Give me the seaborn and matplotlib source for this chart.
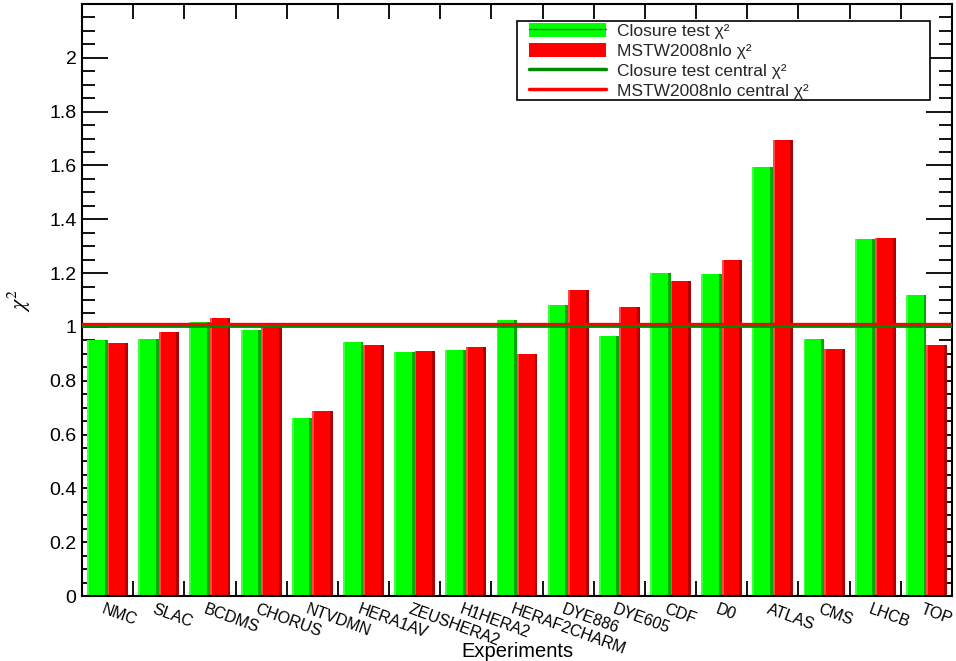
import numpy as np
import pandas as pd
import matplotlib
matplotlib.use("Agg")
import matplotlib.pyplot as plt
import matplotlib.transforms as mtransforms
from matplotlib.patches import Patch, Rectangle
from matplotlib.lines import Line2D
from matplotlib.ticker import FixedLocator, FuncFormatter
from matplotlib.legend_handler import HandlerPatch, HandlerLine2D, HandlerTuple
import seaborn as sns

experiments = ["NMC", "SLAC", "BCDMS", "CHORUS", "NTVDMN", "HERA1AV", "ZEUSHERA2",
               "H1HERA2", "HERAF2CHARM", "DYE886", "DYE605", "CDF", "D0", "ATLAS",
               "CMS", "LHCB", "TOP"]
closure_chi2 = [0.952, 0.955, 1.019, 0.989, 0.662, 0.944, 0.907, 0.914, 1.026,
                1.082, 0.967, 1.201, 1.197, 1.595, 0.955, 1.327, 1.119]
mstw_chi2 = [0.940, 0.981, 1.033, 0.998, 0.688, 0.933, 0.911, 0.926, 0.900,
             1.138, 1.074, 1.171, 1.249, 1.695, 0.918, 1.331, 0.933]
closure_central = 1.004
mstw_central = 1.011
series = ["Closure test χ²", "MSTW2008nlo χ²"]
central_labels = ["Closure test central χ²", "MSTW2008nlo central χ²"]
y_major = [0, 0.2, 0.4, 0.6, 0.8, 1.0, 1.2, 1.4, 1.6, 1.8, 2.0]

df = pd.DataFrame({
    "Experiment": experiments * 2,
    "chi2": closure_chi2 + mstw_chi2,
    "Series": [series[0]] * len(experiments) + [series[1]] * len(experiments),
})

sns.set_theme(style="ticks")
plt.rcParams["font.family"] = ["Liberation Sans", "DejaVu Sans"]
plt.rcParams["mathtext.fontset"] = "stix"

GREEN = "#00ff00"
RED = "#ff0000"
DARK_LINE_GREEN = "#008a00"

fig = plt.figure(figsize=(9.56, 6.61), dpi=100)
ax = fig.add_axes([0.0858, 0.0983, 0.9100, 0.8957])

sns.barplot(data=df, x="Experiment", y="chi2", hue="Series", hue_order=series,
            order=experiments, palette=[GREEN, RED], width=0.8, saturation=1,
            linewidth=0, legend=False, ax=ax)

# 3D-like shading strips on bars (derived from the drawn patches)
bars = [p for p in ax.patches if isinstance(p, Rectangle)]
for p in bars:
    x, w, h = p.get_x(), p.get_width(), p.get_height()
    fc = p.get_facecolor()
    is_green = fc[1] > fc[0]
    dark = "#00a800" if is_green else "#b00000"
    light = "#40ff40" if is_green else "#ff4848"
    ax.add_patch(Rectangle((x + w * 0.86, 0), w * 0.14, h, color=dark, lw=0, zorder=p.get_zorder()))
    ax.add_patch(Rectangle((x, 0), w * 0.09, h, color=light, lw=0, zorder=p.get_zorder()))

ax.axhline(mstw_central, color=RED, lw=2.4, zorder=5)
ax.axhline(closure_central, color=DARK_LINE_GREEN, lw=2.0, zorder=5)

n = len(experiments)
ax.set_xlim(-0.5, n - 0.5)
ax.set_ylim(0, 2.2)

ax.yaxis.set_major_locator(FixedLocator(y_major))
ax.yaxis.set_minor_locator(FixedLocator(np.arange(0, 2.2001, 0.05)))
ax.yaxis.set_major_formatter(FuncFormatter(lambda v, _: "%g" % v))
ax.tick_params(axis="y", which="both", direction="in", left=True, right=True,
               width=1.3, color="black", labelsize=14, labelcolor="black")
ax.tick_params(axis="y", which="major", length=18.5, pad=4)
ax.tick_params(axis="y", which="minor", length=9.4)

ax.set_xticks(range(n))
ax.set_xticklabels(experiments, rotation=-20, ha="left", va="top",
                   rotation_mode="anchor", fontsize=11.5)
ax.xaxis.set_minor_locator(FixedLocator(np.arange(0.5, n - 0.5, 1.0)))
ax.tick_params(axis="x", which="major", length=0, pad=4, labelcolor="black")
ax.tick_params(axis="x", which="minor", direction="in", top=True, bottom=True,
               length=11, width=1.3, color="black")
offset = mtransforms.ScaledTranslation(-3 / 100, 0, fig.dpi_scale_trans)
for lbl in ax.get_xticklabels():
    lbl.set_transform(lbl.get_transform() + offset)

for s in ax.spines.values():
    s.set_visible(True)
    s.set_color("black")
    s.set_linewidth(1.5)

ax.set_xlabel("Experiments", fontsize=14.5, color="black")
ax.xaxis.set_label_coords(0.5, -0.078)
ax.set_ylabel("$\\chi^2$", fontsize=16, color="black", labelpad=12)

handles = [
    (Patch(facecolor=GREEN, edgecolor="none"), Line2D([], [], color=DARK_LINE_GREEN, lw=1)),
    Patch(facecolor=RED, edgecolor="none"),
    Line2D([], [], color=DARK_LINE_GREEN, lw=2.5),
    Line2D([], [], color=RED, lw=2.5),
]
labels = [series[0], series[1], central_labels[0], central_labels[1]]
hmap = {
    tuple: HandlerTuple(ndivide=1, pad=0, xpad=0.6),
    Patch: HandlerPatch(xpad=0.6),
    Line2D: HandlerLine2D(xpad=0.6),
}
leg = ax.legend(handles, labels, loc="upper left", bbox_to_anchor=(0.5, 0.835, 0.475, 0.136),
                mode="expand", borderaxespad=0, fontsize=12.5, handlelength=5.0,
                handleheight=0.85, handletextpad=0.65, labelspacing=0.23, borderpad=0.1,
                frameon=True, fancybox=False, framealpha=1, edgecolor="black",
                handler_map=hmap)
leg.get_frame().set_linewidth(1.2)

fig.savefig("out.png", dpi=100)
